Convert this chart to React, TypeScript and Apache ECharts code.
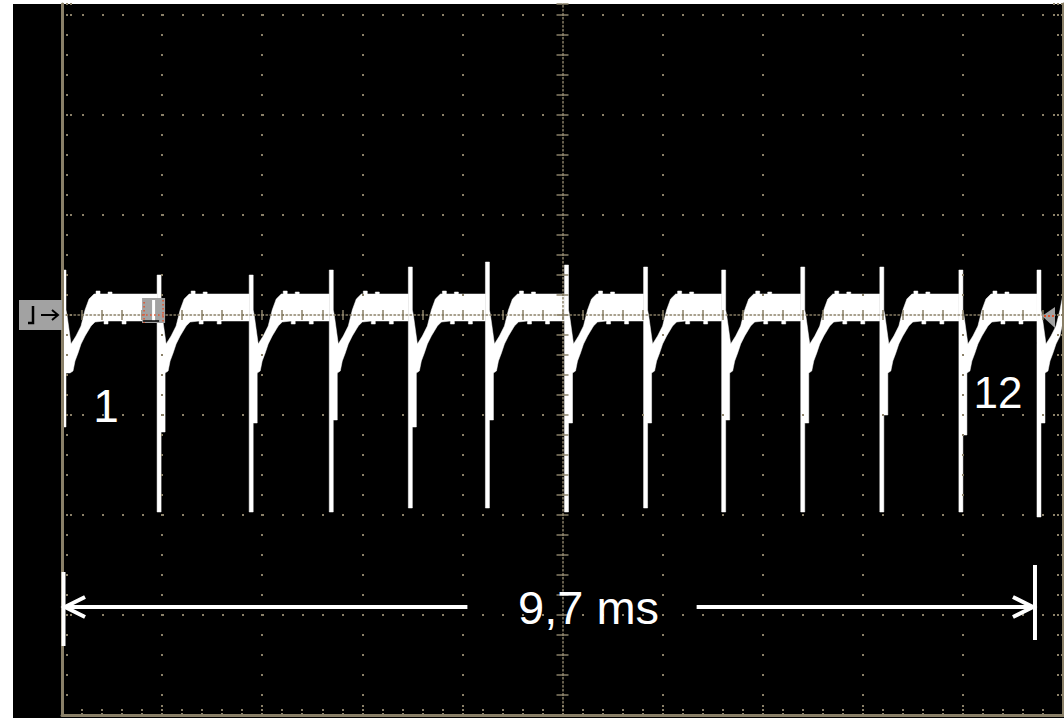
import React, { useEffect, useRef } from "react";
import * as echarts from "echarts";

// ---- screen: time in ms (1 ms / div), signal in divisions (0 = ground marker level)
const TIME_MIN = 0;
const TIME_MAX = 10;
const V_MIN = -4;
const V_MAX = 3.11;

// ---- pulses (13 spikes, 12 periods)
const spikeTimes = [0.02, 0.97, 1.89, 2.69, 3.48, 4.25, 5.04, 5.83, 6.61, 7.4, 8.19, 8.98, 9.76];
const spikeTops = [0.45, 0.4, 0.4, 0.45, 0.48, 0.53, 0.5, 0.48, 0.45, 0.48, 0.48, 0.45, 0.45];
const spikeBottoms = [-1.12, -1.97, -1.97, -1.97, -1.93, -1.93, -1.97, -1.93, -1.97, -1.97, -1.97, -1.97, -2.02];
const shoulderBottoms = [-0.58, -1.17, -1.08, -1.05, -1.12, -1.05, -1.08, -1.08, -1.05, -1.08, -1.0, -1.2, -1.08];

// ---- recovery shape after each spike (offset from spike in ms, level in div)
const upperOffsets = [0.02, 0.03, 0.07, 0.12, 0.17, 0.21, 0.25, 0.3, 0.32, 0.32, 0.36, 0.36, 0.44, 0.44, 0.48, 0.48];
const upperValues = [0.05, 0.0, -0.29, -0.21, -0.11, 0.05, 0.16, 0.21, 0.21, 0.24, 0.24, 0.21, 0.21, 0.23, 0.23, 0.21];
const lowerOffsets = [0.06, 0.09, 0.11, 0.14, 0.17, 0.21, 0.24, 0.27, 0.31, 0.4, 0.4, 0.44, 0.44, 0.58, 0.58, 0.62, 0.62];
const lowerValues = [-0.58, -0.56, -0.46, -0.38, -0.29, -0.21, -0.16, -0.11, -0.07, -0.06, -0.09, -0.09, -0.06, -0.06, -0.09, -0.09, -0.06];
const BAND_UPPER = 0.21;
const BAND_LOWER = -0.06;
const SPIKE_HALF = 0.02;
const SHOULDER_END = 0.06;

// ---- annotations
const pulseLabels = ["1", "12"];
const pulseLabelTimes = [0.44, 9.35];
const pulseLabelLevels = [-0.91, -0.77];
const measureText = "9,7 ms";
const measureStart = 0.03;
const measureEnd = 9.7;
const measureBarStart = 0.015;
const measureBarEnd = 9.72;
const measureLevel = -2.92;
const measureGap = [4.05, 6.34];
const measureLabelTime = 5.26;

const TAN = "#8a8068";
const WHITE = "#ffffff";
const GRAY = "#a2a2a2";
const RED = "#e2532c";

const pulseData = spikeTimes.map((t, i) => [
  t,
  spikeTops[i],
  spikeBottoms[i],
  shoulderBottoms[i],
  i < spikeTimes.length - 1 ? spikeTimes[i + 1] - SPIKE_HALF : TIME_MAX,
]);

const dotted = { color: TAN, width: 2, type: [2, 18] as number[] };

function buildOption(): any {
  const hiddenX = { show: false };
  return {
    animation: false,
    backgroundColor: "transparent",
    grid: { left: 62, right: 1, top: 4, bottom: 3, containLabel: false, outerBoundsMode: "none" },
    xAxis: [
      {
        // bottom border + vertical grid
        type: "value", min: TIME_MIN, max: TIME_MAX, interval: 1, position: "bottom", z: 5,
        axisLine: { show: true, onZero: false, lineStyle: { color: TAN, width: 3 } },
        axisTick: { show: true, inside: true, length: 12, lineStyle: { color: TAN, width: 2, type: [2, 2] } },
        minorTick: { show: true, splitNumber: 5, length: 6, lineStyle: { color: TAN, width: 2, type: [2, 2] } },
        axisLabel: { show: false },
        splitLine: { show: true, lineStyle: { ...dotted, dashOffset: 10 } },
      },
      {
        // horizontal centre line, ticks upward
        type: "value", min: TIME_MIN, max: TIME_MAX, interval: 1, position: "bottom", z: 5,
        axisLine: { show: true, onZero: true, onZeroAxisIndex: 0, lineStyle: { color: TAN, width: 1.5, type: [1.5, 2.5] } },
        axisTick: { show: true, inside: true, length: 5, lineStyle: { color: TAN, width: 1.5 } },
        minorTick: { show: true, splitNumber: 5, length: 5, lineStyle: { color: TAN, width: 1.5 } },
        axisLabel: { show: false }, splitLine: { show: false },
      },
      {
        // horizontal centre line, ticks downward
        type: "value", min: TIME_MIN, max: TIME_MAX, interval: 1, position: "bottom", z: 5,
        axisLine: { show: false, onZero: true, onZeroAxisIndex: 0 },
        axisTick: { show: true, inside: false, length: 5, lineStyle: { color: TAN, width: 1.5 } },
        minorTick: { show: true, splitNumber: 5, length: 5, lineStyle: { color: TAN, width: 1.5 } },
        axisLabel: { show: false }, splitLine: { show: false },
      },
      {
        // helper axis centred on the screen, for the vertical centre line
        type: "value", min: -TIME_MAX / 2, max: TIME_MAX / 2, ...hiddenX,
        axisLine: { show: false, onZero: false }, splitLine: { show: false },
      },
    ],
    yAxis: [
      {
        // left border + horizontal grid
        type: "value", min: V_MIN, max: V_MAX, interval: 1, position: "left", z: 5,
        axisLine: { show: true, onZero: false, lineStyle: { color: TAN, width: 3 } },
        axisTick: { show: true, inside: true, length: 12, lineStyle: { color: TAN, width: 2, type: [2, 2] } },
        minorTick: { show: true, splitNumber: 5, length: 6, lineStyle: { color: TAN, width: 2, type: [2, 2] } },
        axisLabel: { show: false },
        splitLine: { show: true, showMaxLine: false, lineStyle: { ...dotted } },
      },
      {
        // right border
        type: "value", min: V_MIN, max: V_MAX, interval: 1, position: "right", z: 5,
        axisLine: { show: true, onZero: false, lineStyle: { color: TAN, width: 3 } },
        axisTick: { show: true, inside: true, length: 12, lineStyle: { color: TAN, width: 2, type: [2, 2] } },
        minorTick: { show: true, splitNumber: 5, length: 6, lineStyle: { color: TAN, width: 2, type: [2, 2] } },
        axisLabel: { show: false }, splitLine: { show: false },
      },
      {
        // vertical centre line, ticks to the right
        type: "value", min: V_MIN, max: V_MAX, interval: 1, position: "left", z: 5,
        axisLine: { show: true, onZero: true, onZeroAxisIndex: 3, lineStyle: { color: TAN, width: 1.5, type: [1.5, 2.5] } },
        axisTick: { show: true, inside: true, length: 6, lineStyle: { color: TAN, width: 1.5 } },
        minorTick: { show: true, splitNumber: 5, length: 6, lineStyle: { color: TAN, width: 1.5 } },
        axisLabel: { show: false }, splitLine: { show: false },
      },
      {
        // vertical centre line, ticks to the left
        type: "value", min: V_MIN, max: V_MAX, interval: 1, position: "left", z: 5,
        axisLine: { show: false, onZero: true, onZeroAxisIndex: 3 },
        axisTick: { show: true, inside: false, length: 6, lineStyle: { color: TAN, width: 1.5 } },
        minorTick: { show: true, splitNumber: 5, length: 6, lineStyle: { color: TAN, width: 1.5 } },
        axisLabel: { show: false }, splitLine: { show: false },
      },
    ],
    series: [
      {
        type: "custom",
        name: "CH1",
        xAxisIndex: 0,
        yAxisIndex: 0,
        clip: true,
        z: 2,
        data: pulseData,
        encode: { x: 0, y: 1 },
        renderItem: (_params: any, api: any) => {
          const t0 = api.value(0);
          const top = api.value(1);
          const bottom = api.value(2);
          const shoulder = api.value(3);
          const tEnd = api.value(4);
          const start = Math.max(TIME_MIN, t0 - SPIKE_HALF);
          const upper: number[][] = [[start, top], [t0 + SPIKE_HALF, top]];
          upperOffsets.forEach((o, k) => {
            if (t0 + o < tEnd) upper.push([t0 + o, upperValues[k]]);
          });
          upper.push([tEnd, BAND_UPPER]);
          const lower: number[][] = [
            [start, bottom],
            [t0 + SPIKE_HALF, bottom],
            [t0 + SPIKE_HALF, shoulder],
            [t0 + SHOULDER_END, shoulder],
          ];
          lowerOffsets.forEach((o, k) => {
            if (t0 + o < tEnd) lower.push([t0 + o, lowerValues[k]]);
          });
          lower.push([tEnd, BAND_LOWER]);
          const pts = upper.concat(lower.reverse()).map((p) => api.coord(p));
          return { type: "polygon", shape: { points: pts }, style: { fill: WHITE, stroke: WHITE, lineWidth: 0.5 } };
        },
      },
    ],
  };
}

export default function App() {
  const ref = useRef<HTMLDivElement>(null);
  useEffect(() => {
    if (!ref.current) return;
    const chart = echarts.init(ref.current, null, { renderer: "svg" });
    chart.setOption(buildOption());
    const p = (t: number, v: number): number[] =>
      chart.convertToPixel({ xAxisIndex: 0, yAxisIndex: 0 } as any, [t, v]) as any;

    const a0 = p(measureStart, measureLevel);
    const a1 = p(measureEnd, measureLevel);
    const g0 = p(measureGap[0], measureLevel);
    const g1 = p(measureGap[1], measureLevel);
    const headA = p(measureStart + 0.2, measureLevel + 0.1);
    const headB = p(measureStart + 0.2, measureLevel - 0.1);
    const headC = p(measureEnd - 0.2, measureLevel + 0.1);
    const headD = p(measureEnd - 0.2, measureLevel - 0.1);
    const barL0 = p(measureBarStart, -2.57);
    const barL1 = p(measureBarStart, -3.31);
    const barR0 = p(measureBarEnd, -2.5);
    const barR1 = p(measureBarEnd, -3.25);
    const mLabel = p(measureLabelTime, measureLevel);
    const zero = p(TIME_MIN, 0);
    const trig = p(0.8, 0.17);
    const rightEnd = p(TIME_MAX, 0);

    const lw = { stroke: WHITE, lineWidth: 4, fill: "none" };
    const textStyle = (text: string, x: number, y: number, size: number) => ({
      type: "text",
      x,
      y,
      z: 20,
      style: {
        text,
        fill: WHITE,
        fontSize: size,
        fontFamily: "Liberation Sans, Arial, sans-serif",
        align: "center",
        textAlign: "center",
        verticalAlign: "middle",
        textVerticalAlign: "middle",
      },
    });

    const graphic: any[] = [
      { type: "line", z: 20, shape: { x1: a0[0], y1: a0[1], x2: g0[0], y2: g0[1] }, style: lw },
      { type: "line", z: 20, shape: { x1: g1[0], y1: g1[1], x2: a1[0], y2: a1[1] }, style: lw },
      { type: "polyline", z: 20, shape: { points: [headA, a0, headB] }, style: lw },
      { type: "polyline", z: 20, shape: { points: [headC, a1, headD] }, style: lw },
      { type: "line", z: 20, shape: { x1: barL0[0], y1: barL0[1], x2: barL1[0], y2: barL1[1] }, style: lw },
      { type: "line", z: 20, shape: { x1: barR0[0], y1: barR0[1], x2: barR1[0], y2: barR1[1] }, style: lw },
      textStyle(measureText, mLabel[0], mLabel[1], 47),
    ];
    pulseLabels.forEach((lab, i) => {
      const q = p(pulseLabelTimes[i], pulseLabelLevels[i]);
      graphic.push(textStyle(lab, q[0], q[1], i === 0 ? 46 : 44));
    });

    // ground-level marker at the left of the screen
    const gx = zero[0] - 43;
    const gy = zero[1] - 15;
    graphic.push(
      { type: "rect", z: 20, shape: { x: gx, y: gy, width: 43, height: 30 }, style: { fill: GRAY } },
      { type: "polyline", z: 21, shape: { points: [[gx + 14, gy + 6], [gx + 14, gy + 23], [gx + 9, gy + 23]] }, style: { stroke: "#000", lineWidth: 2.5, fill: "none" } },
      { type: "line", z: 21, shape: { x1: gx + 22, y1: zero[1], x2: gx + 38, y2: zero[1] }, style: { stroke: "#000", lineWidth: 2 } },
      { type: "polyline", z: 21, shape: { points: [[gx + 33, zero[1] - 5], [gx + 39, zero[1]], [gx + 33, zero[1] + 5]] }, style: { stroke: "#000", lineWidth: 2, fill: "none" } }
    );

    // trigger position marker
    graphic.push(
      { type: "rect", z: 20, shape: { x: trig[0], y: trig[1], width: 23, height: 25 }, style: { fill: GRAY } },
      { type: "rect", z: 21, shape: { x: trig[0] + 10, y: trig[1] + 2, width: 3, height: 21 }, style: { fill: WHITE } },
      { type: "line", z: 21, shape: { x1: trig[0] + 1, y1: trig[1] + 23, x2: trig[0] + 17, y2: trig[1] + 23 }, style: { stroke: "#000", lineWidth: 1.5 } },
      { type: "line", z: 21, shape: { x1: trig[0] + 2, y1: trig[1] + 4, x2: trig[0] + 2, y2: trig[1] + 25 }, style: { stroke: RED, lineWidth: 1.5, lineDash: [1.5, 2.5] } },
      { type: "line", z: 21, shape: { x1: trig[0] + 21, y1: trig[1] + 2, x2: trig[0] + 21, y2: trig[1] + 25 }, style: { stroke: RED, lineWidth: 1.5, lineDash: [1.5, 2.5] } },
      { type: "line", z: 21, shape: { x1: trig[0], y1: zero[1], x2: trig[0] + 23, y2: zero[1] }, style: { stroke: RED, lineWidth: 1.5, lineDash: [1.5, 2.5] } }
    );

    // trigger-level marker at the right edge
    graphic.push(
      { type: "polygon", z: 20, shape: { points: [[rightEnd[0] - 21, rightEnd[1] + 1], [rightEnd[0] - 8, rightEnd[1] - 8], [rightEnd[0] - 8, rightEnd[1] + 13]] }, style: { fill: GRAY } },
      { type: "line", z: 21, shape: { x1: rightEnd[0] - 19, y1: rightEnd[1] + 1, x2: rightEnd[0] - 9, y2: rightEnd[1] + 1 }, style: { stroke: RED, lineWidth: 2, lineDash: [2, 2] } }
    );

    chart.setOption({ graphic });
    return () => chart.dispose();
  }, []);

  return (
    <div style={{ position: "fixed", left: 0, top: 0, width: 1064, height: 718, background: "#ffffff", overflow: "hidden" }}>
      <div style={{ position: "absolute", left: 13, top: 4, width: 1051, height: 714, background: "#000000" }} />
      <div ref={ref} style={{ position: "absolute", left: 0, top: 0, width: 1064, height: 718 }} />
    </div>
  );
}
